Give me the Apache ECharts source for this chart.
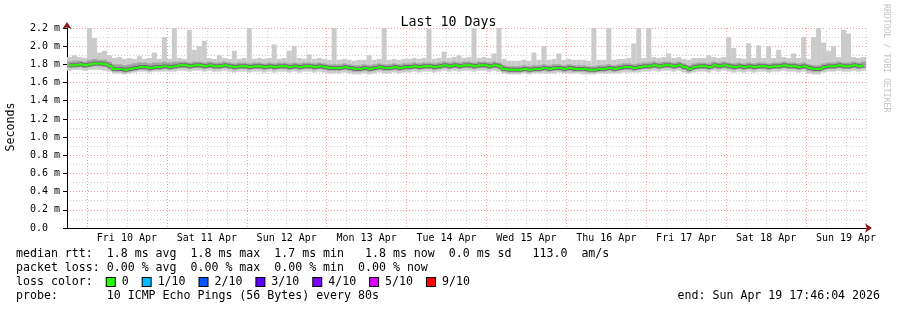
<!DOCTYPE html>
<html><head><meta charset="utf-8">
<script src="https://cdn.jsdelivr.net/npm/echarts@6/dist/echarts.min.js"></script>
<style>html,body{margin:0;padding:0;background:#fff}#c{width:897px;height:310px}</style>
</head><body><div id="c"></div>
<script>
// ---- data (hours relative to Fri 10 Apr 00:00; 1.5 h bins) ----
const dayLabels = ['Fri 10 Apr','Sat 11 Apr','Sun 12 Apr','Mon 13 Apr','Tue 14 Apr','Wed 15 Apr','Thu 16 Apr','Fri 17 Apr','Sat 18 Apr','Sun 19 Apr'];
const yTickLabels = ['0.0  ','0.2 m','0.4 m','0.6 m','0.8 m','1.0 m','1.2 m','1.4 m','1.6 m','1.8 m','2.0 m','2.2 m'];
const startHour = -6, binHours = 1.5;

const median = [
1.79,1.79,1.80,1.79,1.80,1.81,1.81,1.80,1.78,1.75,1.75,1.74,1.75,1.76,1.77,1.77,1.76,1.77,1.77,1.78,
1.77,1.78,1.79,1.79,1.78,1.79,1.79,1.78,1.79,1.78,1.78,1.79,1.78,1.77,1.78,1.78,1.77,1.78,1.78,1.77,
1.78,1.77,1.78,1.78,1.77,1.78,1.77,1.78,1.78,1.77,1.78,1.77,1.76,1.76,1.76,1.77,1.76,1.75,1.75,1.76,
1.75,1.76,1.77,1.76,1.76,1.77,1.76,1.77,1.77,1.78,1.77,1.78,1.78,1.77,1.78,1.79,1.78,1.79,1.78,1.79,
1.79,1.78,1.79,1.79,1.78,1.79,1.78,1.75,1.74,1.74,1.74,1.75,1.74,1.75,1.75,1.76,1.75,1.76,1.76,1.75,
1.76,1.75,1.75,1.75,1.74,1.74,1.75,1.75,1.76,1.75,1.76,1.77,1.77,1.76,1.77,1.78,1.78,1.79,1.78,1.79,
1.79,1.78,1.79,1.77,1.75,1.77,1.78,1.78,1.77,1.79,1.78,1.79,1.78,1.77,1.78,1.77,1.78,1.77,1.78,1.78,
1.77,1.78,1.78,1.79,1.78,1.78,1.77,1.78,1.76,1.75,1.75,1.77,1.78,1.78,1.79,1.78,1.78,1.79,1.78,1.79];

const pingMax = [
1.88,1.90,1.88,1.87,2.20,2.09,1.93,1.95,1.90,1.87,1.88,1.86,1.87,1.86,1.89,1.86,1.87,1.93,1.86,2.10,
1.86,2.20,1.87,1.86,2.18,1.96,2.00,2.06,1.87,1.86,1.90,1.87,1.86,1.95,1.86,1.87,2.20,1.86,1.87,1.86,
1.87,2.02,1.86,1.87,1.95,2.00,1.87,1.86,1.91,1.86,1.87,1.86,1.85,2.20,1.85,1.86,1.85,1.84,1.85,1.85,
1.90,1.85,1.86,2.20,1.85,1.86,1.85,1.86,1.86,1.87,1.86,1.87,2.19,1.86,1.87,1.94,1.87,1.88,1.90,1.87,
1.88,2.20,1.87,1.88,1.87,1.92,2.20,1.86,1.84,1.84,1.84,1.85,1.84,1.93,1.85,2.00,1.85,1.86,1.92,1.85,
1.86,1.85,1.85,1.85,1.84,2.20,1.85,1.85,2.20,1.85,1.86,1.86,1.87,2.03,2.20,1.87,2.20,1.88,1.87,1.88,
1.92,1.87,1.88,1.86,1.85,1.87,1.87,1.87,1.90,1.88,1.87,1.88,2.10,1.98,1.87,1.86,2.03,1.87,2.01,1.87,
2.00,1.87,1.96,1.88,1.87,1.92,1.87,2.10,1.86,2.10,2.20,2.04,1.95,2.00,1.88,2.18,2.14,1.88,1.87,1.88];

const pingMin = [
1.73,1.74,1.74,1.73,1.74,1.74,1.74,1.73,1.72,1.70,1.70,1.69,1.70,1.71,1.72,1.72,1.71,1.72,1.72,1.72,
1.72,1.72,1.73,1.73,1.72,1.73,1.73,1.72,1.73,1.72,1.72,1.73,1.72,1.71,1.72,1.72,1.71,1.72,1.72,1.71,
1.72,1.71,1.72,1.72,1.71,1.72,1.71,1.72,1.72,1.71,1.72,1.71,1.70,1.70,1.70,1.71,1.70,1.69,1.69,1.70,
1.69,1.70,1.71,1.70,1.70,1.71,1.70,1.71,1.71,1.72,1.71,1.72,1.72,1.71,1.72,1.73,1.72,1.73,1.72,1.73,
1.73,1.72,1.73,1.73,1.72,1.73,1.72,1.70,1.69,1.69,1.69,1.70,1.69,1.70,1.70,1.70,1.70,1.70,1.71,1.70,
1.70,1.70,1.70,1.69,1.69,1.69,1.70,1.70,1.70,1.70,1.70,1.71,1.71,1.71,1.71,1.72,1.72,1.73,1.72,1.73,
1.73,1.72,1.73,1.71,1.70,1.71,1.72,1.72,1.71,1.73,1.72,1.73,1.72,1.71,1.72,1.71,1.72,1.71,1.72,1.72,
1.71,1.72,1.72,1.73,1.72,1.72,1.71,1.72,1.70,1.69,1.69,1.71,1.72,1.72,1.73,1.72,1.72,1.73,1.72,1.73];

const smokeLow = [
1.76,1.77,1.77,1.76,1.77,1.78,1.78,1.77,1.75,1.72,1.72,1.71,1.72,1.73,1.74,1.74,1.73,1.74,1.74,1.75,
1.74,1.75,1.76,1.76,1.75,1.76,1.76,1.75,1.76,1.75,1.75,1.76,1.75,1.74,1.75,1.75,1.74,1.75,1.75,1.74,
1.75,1.74,1.75,1.75,1.74,1.75,1.74,1.75,1.75,1.74,1.75,1.74,1.73,1.73,1.73,1.74,1.73,1.72,1.72,1.73,
1.72,1.73,1.74,1.73,1.73,1.74,1.73,1.74,1.74,1.75,1.74,1.75,1.75,1.74,1.75,1.76,1.75,1.76,1.75,1.76,
1.76,1.75,1.76,1.76,1.75,1.76,1.75,1.72,1.71,1.71,1.71,1.72,1.71,1.72,1.72,1.73,1.72,1.73,1.73,1.72,
1.73,1.72,1.72,1.72,1.71,1.71,1.72,1.72,1.73,1.72,1.73,1.74,1.74,1.73,1.74,1.75,1.75,1.76,1.75,1.76,
1.76,1.75,1.76,1.74,1.72,1.74,1.75,1.75,1.74,1.76,1.75,1.76,1.75,1.74,1.75,1.74,1.75,1.74,1.75,1.75,
1.74,1.75,1.75,1.76,1.75,1.75,1.74,1.75,1.73,1.72,1.72,1.74,1.75,1.75,1.76,1.75,1.75,1.76,1.75,1.76];

const smokeHigh = [
1.83,1.84,1.84,1.83,1.85,1.86,1.85,1.85,1.83,1.80,1.80,1.79,1.80,1.81,1.82,1.82,1.81,1.82,1.82,1.83,
1.82,1.83,1.83,1.83,1.82,1.83,1.83,1.82,1.83,1.82,1.82,1.83,1.82,1.81,1.82,1.82,1.81,1.82,1.82,1.81,
1.82,1.81,1.82,1.82,1.81,1.82,1.81,1.82,1.82,1.81,1.82,1.81,1.80,1.80,1.80,1.81,1.80,1.79,1.79,1.80,
1.79,1.80,1.81,1.80,1.80,1.81,1.80,1.81,1.81,1.82,1.81,1.82,1.82,1.81,1.82,1.83,1.82,1.83,1.82,1.83,
1.83,1.82,1.83,1.83,1.82,1.83,1.82,1.79,1.78,1.78,1.78,1.79,1.78,1.79,1.79,1.80,1.79,1.80,1.80,1.79,
1.80,1.79,1.79,1.79,1.78,1.78,1.79,1.79,1.80,1.79,1.80,1.81,1.81,1.80,1.81,1.82,1.82,1.83,1.82,1.83,
1.83,1.82,1.83,1.81,1.79,1.81,1.82,1.82,1.81,1.83,1.82,1.83,1.82,1.81,1.82,1.81,1.82,1.81,1.82,1.82,
1.81,1.82,1.82,1.83,1.82,1.82,1.81,1.82,1.80,1.79,1.79,1.81,1.82,1.82,1.83,1.82,1.82,1.83,1.82,1.83];

const lossColors = [['0','#26ff00'],['1/10','#00b8ff'],['2/10','#0059ff'],['3/10','#5e00ff'],['4/10','#7e00ff'],['5/10','#dd00ff'],['9/10','#ff0000']];

// ---- build ----
const times = median.map((_, i) => startHour + binHours * i + binHours / 2);
const pair = arr => arr.map((v, i) => [times[i], v]);
const band = (lo, hi) => lo.map((v, i) => [times[i], v, hi[i]]);

const FONT = 'DejaVu Sans Mono';
const GRAY = '#d0d0d0', RED = '#f4a0a0';

const bandSeries = (name, data, color) => ({
  type: 'custom', name: name, data: data, silent: true, xAxisIndex: 1, yAxisIndex: 1,
  encode: {x: 0, y: [1, 2]},
  renderItem: (params, api) => {
    const a = api.coord([api.value(0) - binHours / 2, api.value(2)]);
    const b = api.coord([api.value(0) + binHours / 2, api.value(1)]);
    return {type: 'rect', shape: {x: a[0], y: a[1], width: b[0] - a[0], height: b[1] - a[1]},
      style: {fill: color}};
  }
});

const chart = echarts.init(document.getElementById('c'), null, {renderer: 'canvas'});

let rich = {};
let lossText = 'loss color:  ';
lossColors.forEach((lc, k) => {
  rich['b' + k] = {width: 8, height: 8, backgroundColor: lc[1], borderColor: '#000', borderWidth: 1};
  lossText += '{b' + k + '| }' + ' ' + lc[0] + '  ';
});

const txt = (text, x, y, extra) => Object.assign({
  type: 'text', x: x, y: y, silent: true,
  style: {text: text, font: '11.6px "' + FONT + '"', fill: '#000', verticalAlign: 'middle', align: 'left'}
}, extra || {});

chart.setOption({
  animation: false,
  backgroundColor: '#fff',
  title: {text: 'Last 10 Days', left: 'center', top: 11,
    textStyle: {fontFamily: FONT, fontSize: 13.3, fontWeight: 'normal', color: '#000'}},
  grid: {left: 67, right: 31, top: 28, bottom: 82, containLabel: false},
  xAxis: [
    {type: 'value', min: -6, max: 234, interval: 6, position: 'bottom',
     axisLine: {show: true, onZero: false, symbol: ['none', 'arrow'], symbolSize: [7, 7], symbolOffset: [0, 6], lineStyle: {color: '#8b1a1a'}},
     axisTick: {show: false}, axisLabel: {show: false}, splitLine: {show: false}},
    {type: 'value', min: -6, max: 234, interval: 6, position: 'bottom',
     axisLine: {show: true, onZero: false, lineStyle: {color: '#000'}},
     axisTick: {show: false},
     axisLabel: {fontFamily: FONT, fontSize: 10, color: '#000', margin: 5, showMinLabel: true, showMaxLabel: true,
       formatter: v => { const h = Math.round(v); return ((h - 12) % 24 === 0 && h >= 12) ? dayLabels[(h - 12) / 24] : ''; }},
     splitLine: {show: true, lineStyle: {color: [GRAY, RED, GRAY, GRAY], type: [1, 2], width: 1}}}
  ],
  yAxis: [
    {type: 'value', min: 0, max: 2.2, interval: 0.2, position: 'left',
     axisLine: {show: true, onZero: false, symbol: ['none', 'arrow'], symbolSize: [7, 7], symbolOffset: [0, 6], lineStyle: {color: '#8b1a1a'}},
     axisTick: {show: true, length: 4, lineStyle: {color: '#000'}}, axisLabel: {show: false}, splitLine: {show: false}},
    {type: 'value', min: 0, max: 2.2, interval: 0.1, position: 'left',
     axisLine: {show: true, onZero: false, lineStyle: {color: '#000'}},
     axisTick: {show: false},
     axisLabel: {fontFamily: FONT, fontSize: 10, color: '#000', margin: 7,
       formatter: v => { const t = Math.round(v * 10); return t % 2 === 0 ? yTickLabels[t / 2] : ''; }},
     splitLine: {show: true, lineStyle: {color: [RED, GRAY], type: [1, 2], width: 1}}}
  ],
  series: [
    bandSeries('ping range', band(pingMin, pingMax), '#cbcbcb'),
    bandSeries('smoke', band(smokeLow, smokeHigh), '#a2a2a2'),
    {type: 'line', name: 'halo', data: pair(median), step: 'middle', symbol: 'none', silent: true, xAxisIndex: 1, yAxisIndex: 1,
     lineStyle: {color: '#707070', width: 4}},
    {type: 'line', name: 'median rtt', data: pair(median), step: 'middle', symbol: 'none', silent: true, xAxisIndex: 1, yAxisIndex: 1,
     lineStyle: {color: '#26ff00', width: 2}}
  ],
  graphic: [
    txt('Seconds', 11, 127, {rotation: Math.PI / 2, style: {text: 'Seconds', font: '11.6px "' + FONT + '"', fill: '#000', align: 'center', verticalAlign: 'middle'}}),
    txt('RRDTOOL / TOBI OETIKER', 886, 4, {rotation: -Math.PI / 2, style: {text: 'RRDTOOL / TOBI OETIKER', font: '8.2px "' + FONT + '"', fill: '#c4c4c4', align: 'left', verticalAlign: 'middle'}}),
    txt('median rtt:  1.8 ms avg  1.8 ms max  1.7 ms min   1.8 ms now  0.0 ms sd   113.0  am/s', 16, 254),
    txt('packet loss: 0.00 % avg  0.00 % max  0.00 % min  0.00 % now', 16, 268),
    {type: 'text', x: 16, y: 282, silent: true,
     style: {text: lossText, font: '11.6px "' + FONT + '"', fill: '#000', verticalAlign: 'middle', align: 'left', rich: rich}},
    txt('probe:       10 ICMP Echo Pings (56 Bytes) every 80s', 16, 296),
    txt('end: Sun Apr 19 17:46:04 2026', 880, 296, {style: {text: 'end: Sun Apr 19 17:46:04 2026', font: '11.6px "' + FONT + '"', fill: '#000', align: 'right', verticalAlign: 'middle'}})
  ]
});
</script></body></html>
